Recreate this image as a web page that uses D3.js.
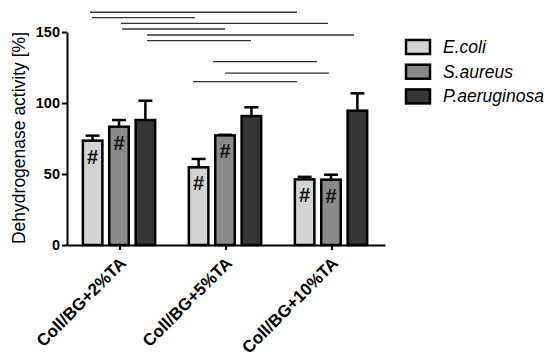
<!DOCTYPE html>
<html>
<head>
<meta charset="utf-8">
<script src="https://cdn.jsdelivr.net/npm/d3@7"></script>
<style>
  body { margin: 0; background: #fff; }
  svg { font-family: Arial, "Liberation Sans", sans-serif; }
</style>
</head>
<body>
<svg id="chart" width="550" height="359"></svg>
<script>
// groups on the x axis
var groups = ["Coll/BG+2%TA", "Coll/BG+5%TA", "Coll/BG+10%TA"];
var series = ["E.coli", "S.aureus", "P.aeruginosa"];
var colors = ["#d3d3d3", "#8a8a8a", "#363636"];

// mean values per series (one value per group)
var ecoli = [73.5, 54.7, 46.2];
var saureus = [83.3, 77.2, 46.0];
var paerug = [88.0, 90.8, 94.6];
// upper ends of the error bars
var ecoliErr = [77, 60.6, 48];
var saureusErr = [88, 77.6, 49.5];
var paerugErr = [101.6, 97, 106.8];
// which bars carry a "#"
var hashMarks = [[true, true, false], [true, true, false], [true, true, false]];

var yTicks = [0, 50, 100, 150];

// significance lines: x in group units (0 = first group centre), y in data units
var sigX1 = [-0.283, -0.264, 0.009, 0.019, 0.255, 0.255, 0.877, 0.991, 0.689];
var sigX2 = [1.670, 0.708, 1.962, 0.991, 2.208, 1.236, 1.858, 1.972, 1.670];
var sigY = [163.9, 160.1, 156.1, 152.1, 147.9, 143.9, 129.1, 121.1, 115.0];

var svg = d3.select("#chart");

var x = d3.scaleBand().domain(groups).range([67, 385]).padding(0);
var inner = d3.scaleBand().domain(series).range([-43, 43]).padding(0.26);
var y = d3.scaleLinear().domain([0, 150]).range([245, 32]);
var xu = d3.scaleLinear().domain([0, 1])
  .range([x(groups[0]) + x.bandwidth() / 2, x(groups[1]) + x.bandwidth() / 2]);

var values = [ecoli, saureus, paerug];
var errs = [ecoliErr, saureusErr, paerugErr];

var data = [];
groups.forEach(function(g, gi) {
  series.forEach(function(s, si) {
    data.push({ group: g, series: s, si: si, value: values[si][gi], err: errs[si][gi], hash: hashMarks[gi][si] });
  });
});

function barCx(d) {
  return x(d.group) + x.bandwidth() / 2 + inner(d.series) + inner.bandwidth() / 2 - 1;
}

// error bars (drawn first, bar covers bottom)
var eb = svg.append("g");
eb.selectAll("line.v").data(data).enter().append("line")
  .attr("x1", barCx).attr("x2", barCx)
  .attr("y1", function(d) { return y(d.value); })
  .attr("y2", function(d) { return y(d.err); })
  .attr("stroke", "#000").attr("stroke-width", 2.5);
eb.selectAll("line.c").data(data).enter().append("line")
  .attr("x1", function(d) { return barCx(d) - 7; })
  .attr("x2", function(d) { return barCx(d) + 7; })
  .attr("y1", function(d) { return y(d.err); })
  .attr("y2", function(d) { return y(d.err); })
  .attr("stroke", "#000").attr("stroke-width", 2.5);

// bars
svg.append("g").selectAll("rect").data(data).enter().append("rect")
  .attr("x", function(d) { return barCx(d) - inner.bandwidth() / 2; })
  .attr("y", function(d) { return y(d.value); })
  .attr("width", inner.bandwidth())
  .attr("height", function(d) { return y(0) - y(d.value); })
  .attr("fill", function(d) { return colors[d.si]; })
  .attr("stroke", "#000").attr("stroke-width", 2.5);

// hash marks
svg.append("g").selectAll("text").data(data.filter(function(d) { return d.hash; })).enter().append("text")
  .attr("x", barCx)
  .attr("y", function(d) { return y(d.value) + 23; })
  .attr("text-anchor", "middle")
  .attr("font-size", 20)
  .attr("font-weight", "bold")
  .attr("fill", "#111")
  .text("#");

// significance lines
svg.append("g").selectAll("line").data(sigY).enter().append("line")
  .attr("x1", function(d, i) { return xu(sigX1[i]); })
  .attr("x2", function(d, i) { return xu(sigX2[i]); })
  .attr("y1", function(d) { return y(d); })
  .attr("y2", function(d) { return y(d); })
  .attr("stroke", "#333").attr("stroke-width", 1.3);

// y axis
var yAxis = svg.append("g").attr("transform", "translate(67,0)")
  .call(d3.axisLeft(y).tickValues(yTicks).tickSize(5).tickSizeOuter(0));
yAxis.select(".domain").attr("stroke-width", 2);
yAxis.selectAll(".tick line").attr("stroke-width", 2);
yAxis.selectAll(".tick text").attr("font-size", 14.5).attr("font-weight", "bold")
  .attr("font-family", "Arial, 'Liberation Sans', sans-serif").attr("dx", 1);

// x axis
var xAxis = svg.append("g").attr("transform", "translate(0,245)")
  .call(d3.axisBottom(x).tickSize(5).tickSizeOuter(0));
xAxis.select(".domain").attr("stroke-width", 2);
xAxis.selectAll(".tick line").attr("stroke-width", 2);
xAxis.selectAll(".tick text")
  .attr("font-size", 17).attr("font-weight", "bold")
  .attr("font-family", "Arial, 'Liberation Sans', sans-serif")
  .attr("text-anchor", "end")
  .attr("transform", "translate(3,15) rotate(-45)")
  .attr("dy", "0.35em").attr("y", 0).attr("x", 0);

// y label
svg.append("text")
  .attr("transform", "translate(25,138) rotate(-90)")
  .attr("text-anchor", "middle")
  .attr("font-size", 17.5)
  .text("Dehydrogenase activity [%]");

// legend
var legend = svg.append("g").selectAll("g").data(series).enter().append("g")
  .attr("transform", function(d, i) { return "translate(406," + (40 + i * 24.7) + ")"; });
legend.append("rect").attr("width", 24).attr("height", 14)
  .attr("fill", function(d, i) { return colors[i]; })
  .attr("stroke", "#000").attr("stroke-width", 2.5);
legend.append("text").attr("x", 37).attr("y", 13)
  .attr("font-size", 17.5).attr("font-style", "italic")
  .text(function(d) { return d; });
</script>
</body>
</html>
